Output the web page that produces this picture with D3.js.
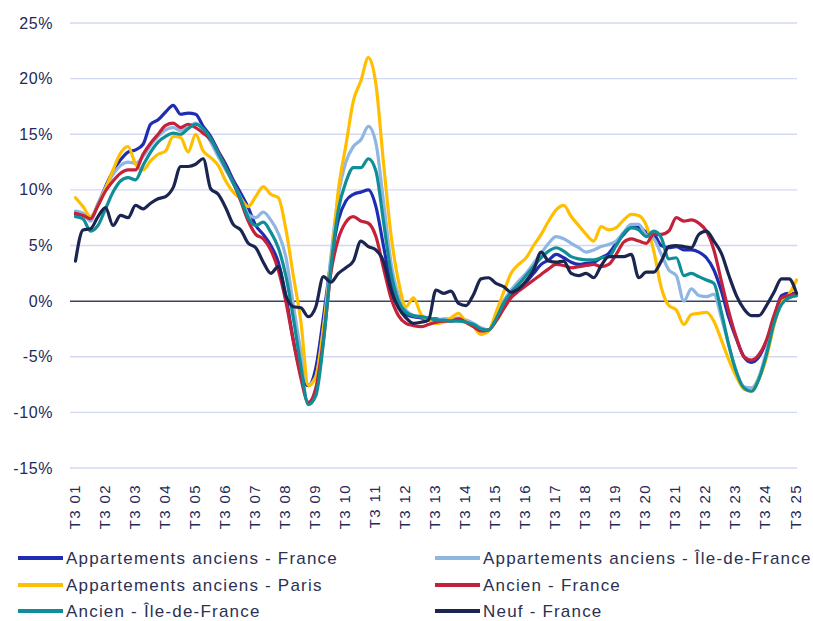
<!DOCTYPE html>
<html>
<head>
<meta charset="utf-8">
<script src="https://cdn.jsdelivr.net/npm/d3@7"></script>
<style>
  body { margin: 0; background: #fff; }
  text { font-family: "Liberation Sans", Arial, sans-serif; fill: #1e2a5a; }
</style>
</head>
<body>
<svg width="813" height="621"></svg>
<script>
// quarterly, T3 2001 -> T3 2025
const years = d3.range(1, 26);
const tickLabels = years.map(y => "T3 " + String(y).padStart(2, "0"));
const yTicks = [-15, -10, -5, 0, 5, 10, 15, 20, 25];

const appartFrance = [7.8,7.8,7.5,8.7,10.3,11.7,12.7,13.4,13.6,14.1,15.9,16.3,17.0,17.6,16.8,16.9,
  16.8,15.7,14.8,13.5,12.3,10.9,9.7,8.4,6.8,6.0,5.0,3.5,0.5,-3.5,-6.5,-7.6,
  -6.0,-1.5,3.5,7.3,9.0,9.6,9.8,10.0,8.5,5.0,1.5,-0.5,-1.2,-1.4,-1.5,-1.6,
  -1.6,-1.7,-1.7,-1.6,-1.8,-2.1,-2.5,-2.6,-1.6,-0.4,0.5,1.1,1.7,2.5,3.3,3.7,
  4.2,3.9,3.5,3.3,3.4,3.5,3.9,4.3,5.2,6.0,6.6,6.6,6.2,6.0,5.0,4.8,
  4.9,4.6,4.6,4.4,3.9,2.8,0.9,-1.5,-3.4,-5.0,-5.5,-5.0,-3.6,-1.6,0.5,0.7,0.7];

const appartIdf = [8.1,7.9,7.2,8.8,10.2,11.4,12.2,12.5,12.4,13.0,14.0,14.8,15.4,15.6,15.3,15.6,
  16.0,15.4,14.3,13.0,11.8,10.6,9.3,7.8,7.5,8.0,7.3,6.1,4.0,-0.3,-4.5,-7.5,
  -6.8,-2.5,4.0,9.5,12.5,13.9,14.5,15.7,14.2,9.0,3.5,0.5,-0.8,-1.3,-1.4,-1.5,
  -1.7,-1.6,-1.6,-1.5,-1.7,-2.0,-2.4,-2.6,-1.5,0.0,1.0,1.8,2.5,3.4,4.3,5.2,
  5.8,5.6,5.2,4.8,4.4,4.6,4.9,5.1,5.4,6.2,6.9,6.9,5.9,5.6,4.2,2.8,
  2.3,0.0,1.1,0.5,0.4,0.6,-1.5,-4.0,-6.3,-7.7,-7.8,-6.8,-4.5,-1.6,-0.2,0.3,0.5];

const appartParis = [9.3,8.5,7.6,8.6,10.1,11.8,13.3,13.9,12.3,11.8,12.6,13.2,13.5,14.8,14.7,13.4,
  15.0,13.5,12.9,12.2,10.8,9.8,9.2,8.5,9.4,10.3,9.6,9.3,6.5,2.3,-1.8,-7.6,
  -6.8,-2.5,3.0,10.0,14.0,18.0,19.8,21.9,19.5,12.5,6.0,1.8,-0.5,0.3,-1.2,-1.7,
  -2.0,-1.9,-1.5,-1.1,-1.9,-2.3,-3.0,-2.7,-1.0,0.8,2.5,3.3,3.9,5.0,6.0,7.2,
  8.2,8.6,7.6,6.8,6.0,5.4,6.7,6.4,6.6,7.3,7.8,7.7,6.8,4.5,1.2,-0.4,
  -0.8,-2.1,-1.2,-1.1,-1.0,-1.8,-3.5,-5.3,-6.8,-7.9,-8.1,-7.0,-5.1,-2.2,-0.1,0.6,1.9];

const ancienFrance = [7.9,7.7,7.4,8.6,9.9,10.8,11.5,11.8,11.8,13.2,14.2,15.0,15.8,16.0,15.6,15.9,
  15.6,15.1,14.5,13.4,12.0,10.7,9.0,7.2,6.0,5.6,4.6,2.8,0.0,-3.6,-6.9,-9.1,
  -7.8,-3.5,2.5,5.6,7.1,7.6,7.2,7.0,5.8,3.0,0.3,-1.3,-2.0,-2.2,-2.3,-2.1,
  -1.9,-1.8,-1.8,-1.6,-1.9,-2.3,-2.7,-2.6,-1.8,-0.7,0.3,0.9,1.4,1.9,2.4,2.9,
  3.3,3.2,3.0,3.1,3.2,3.3,3.1,3.3,4.2,5.3,5.6,5.4,5.2,6.0,6.0,6.3,
  7.5,7.2,7.3,7.0,6.3,4.6,1.8,-1.0,-3.3,-5.0,-5.3,-4.8,-3.5,-1.3,0.3,0.5,0.7];

const ancienIdf = [7.6,7.4,6.3,6.8,8.3,9.8,10.8,11.1,10.9,12.2,13.4,14.3,14.8,15.1,15.0,15.5,
  15.9,15.5,14.6,13.3,12.0,10.6,9.2,7.5,6.8,7.1,6.2,4.8,2.3,-1.5,-5.8,-9.3,
  -8.5,-3.8,3.0,8.2,10.7,12.0,12.0,12.8,11.7,7.2,2.6,0.0,-1.0,-1.3,-1.4,-1.5,
  -1.7,-1.7,-1.8,-1.8,-1.9,-2.1,-2.5,-2.6,-1.6,-0.2,0.8,1.5,2.3,3.1,3.9,4.5,
  4.8,4.5,4.0,3.8,3.7,3.7,3.9,4.0,5.0,6.1,6.6,6.4,5.8,6.3,5.7,3.8,
  3.9,2.3,2.5,2.2,1.9,1.6,-1.0,-4.0,-6.4,-7.8,-8.1,-7.0,-4.8,-2.0,-0.3,0.3,0.5];

const neufFrance = [3.6,6.4,6.5,7.6,8.4,6.8,7.7,7.5,8.6,8.3,8.8,9.2,9.4,10.2,12.1,12.1,
  12.3,12.8,10.1,9.6,8.4,6.9,6.4,5.2,4.8,3.5,2.5,3.1,0.5,-0.5,-0.6,-1.4,
  -0.5,2.2,1.7,2.5,3.0,3.6,5.4,4.9,4.6,3.6,1.0,-0.6,-1.5,-2.0,-1.9,-1.7,
  1.0,0.7,0.9,-0.2,-0.4,0.6,2.0,2.1,1.6,1.3,0.8,1.1,1.8,2.8,4.4,3.6,
  3.5,3.6,2.5,2.3,2.5,2.1,3.2,4.0,4.0,4.0,4.2,2.1,2.6,2.6,3.6,4.9,
  5.0,4.9,4.8,6.0,6.3,5.4,4.3,2.3,0.5,-0.7,-1.3,-1.3,-0.4,0.8,2.0,2.0,0.7];

const seriesNames = ["Appartements anciens - France", "Appartements anciens - Île-de-France",
  "Appartements anciens - Paris", "Ancien - France", "Ancien - Île-de-France", "Neuf - France"];
const seriesValues = [appartFrance, appartIdf, appartParis, ancienFrance, ancienIdf, neufFrance];
const colors = ["#1f2db3", "#8fb5e3", "#ffbf00", "#c4213a", "#0f8e97", "#1b2550"];

const svg = d3.select("svg");
const plotLeft = 70, plotRight = 797, plotTop = 23, plotBottom = 468;

const x = d3.scaleLinear().domain([0, 96]).range([75.5, 796.5]);
const y = d3.scaleLinear().domain([-15, 25]).range([plotBottom, plotTop]);

// grid
svg.append("g")
  .selectAll("line")
  .data(yTicks.filter(d => d !== 0))
  .enter().append("line")
    .attr("x1", plotLeft).attr("x2", plotRight)
    .attr("y1", d => y(d)).attr("y2", d => y(d))
    .attr("stroke", "#d3d8f2").attr("stroke-width", 1.3);

// y axis labels
svg.append("g")
  .selectAll("text")
  .data(yTicks)
  .enter().append("text")
    .attr("x", 53)
    .attr("y", d => y(d))
    .attr("dy", "0.35em")
    .attr("text-anchor", "end")
    .style("font-size", "16px")
    .style("letter-spacing", "0.6px")
    .text(d => d + "%");

// x labels, one per year at T3
svg.append("g")
  .selectAll("text")
  .data(tickLabels)
  .enter().append("text")
    .attr("transform", (d, i) => "translate(" + (x(i * 4) + 4) + ",484) rotate(-90)")
    .attr("text-anchor", "end")
    .style("font-size", "15px")
    .style("letter-spacing", "1.4px")
    .text(d => d);

// zero line
svg.append("line")
  .attr("x1", plotLeft).attr("x2", plotRight)
  .attr("y1", y(0)).attr("y2", y(0))
  .attr("stroke", "#3b4266").attr("stroke-width", 1.5);

const line = d3.line()
  .x((d, i) => x(i))
  .y(d => y(d))
  .curve(d3.curveMonotoneX);

svg.append("g")
  .selectAll("path")
  .data(seriesValues)
  .enter().append("path")
    .attr("d", line)
    .attr("fill", "none")
    .attr("stroke", (d, i) => colors[i])
    .attr("stroke-width", 3.2)
    .attr("stroke-linejoin", "round")
    .attr("stroke-linecap", "round");

// legend, 2 columns
const legend = svg.append("g")
  .selectAll("g")
  .data(seriesNames)
  .enter().append("g")
    .attr("transform", (d, i) => "translate(" + (i % 2 === 0 ? 18 : 435) + "," + [558, 585, 611][Math.floor(i / 2)] + ")");

legend.append("line")
  .attr("x1", 0).attr("x2", 45)
  .attr("stroke", (d, i) => colors[i])
  .attr("stroke-width", 4);

legend.append("text")
  .attr("x", 48)
  .attr("dy", "0.35em")
  .style("font-size", "17px")
  .style("letter-spacing", "1.2px")
  .style("fill", "#2b3152")
  .text(d => d);
</script>
</body>
</html>
